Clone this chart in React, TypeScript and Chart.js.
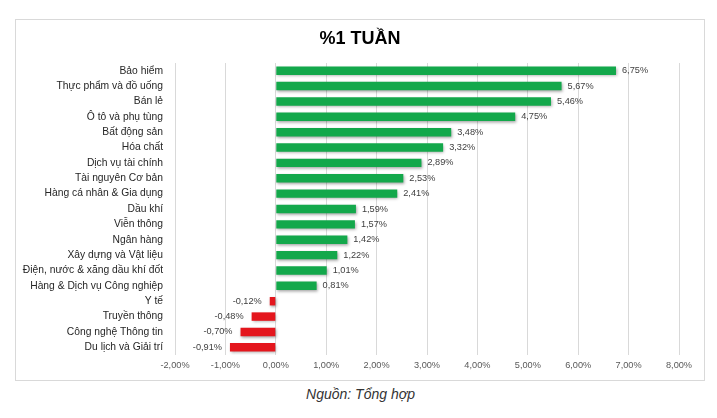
import React, { useEffect, useRef } from "react";
import { Chart, registerables } from "chart.js";

Chart.register(...registerables);

const TITLE = "%1 TUẦN";
const SOURCE = "Nguồn: Tổng hợp";

const categories: string[] = [
  "Bảo hiểm",
  "Thực phẩm và đồ uống",
  "Bán lẻ",
  "Ô tô và phụ tùng",
  "Bất động sản",
  "Hóa chất",
  "Dịch vụ tài chính",
  "Tài nguyên Cơ bản",
  "Hàng cá nhân & Gia dụng",
  "Dầu khí",
  "Viễn thông",
  "Ngân hàng",
  "Xây dựng và Vật liệu",
  "Điện, nước & xăng dầu khí đốt",
  "Hàng & Dịch vụ Công nghiệp",
  "Y tế",
  "Truyền thông",
  "Công nghệ Thông tin",
  "Du lịch và Giải trí",
];

const weekChange: number[] = [
  6.75, 5.67, 5.46, 4.75, 3.48, 3.32, 2.89, 2.53, 2.41, 1.59, 1.57, 1.42, 1.22,
  1.01, 0.81, -0.12, -0.48, -0.7, -0.91,
];

const xMin = -2;
const xMax = 8;
const xStep = 1;

const GREEN = "#13a84b";
const RED = "#e4161d";
const FONT = "'Liberation Sans', Arial, sans-serif";

const fmt = (v: number) => v.toFixed(2).replace(".", ",") + "%";

const shadowPlugin = {
  id: "barShadow",
  beforeDatasetDraw(chart: any) {
    const ctx = chart.ctx;
    ctx.save();
    ctx.shadowColor = "rgba(0,0,0,0.35)";
    ctx.shadowBlur = 3;
    ctx.shadowOffsetX = 1;
    ctx.shadowOffsetY = 1.5;
  },
  afterDatasetDraw(chart: any) {
    chart.ctx.restore();
  },
};

const labelPlugin = {
  id: "valueLabels",
  afterDatasetsDraw(chart: any) {
    const ctx = chart.ctx;
    const meta = chart.getDatasetMeta(0);
    const data = chart.data.datasets[0].data as number[];
    ctx.save();
    ctx.font = `9.2px ${FONT}`;
    ctx.fillStyle = "#404040";
    ctx.textBaseline = "middle";
    meta.data.forEach((bar: any, i: number) => {
      const v = data[i];
      if (v >= 0) {
        ctx.textAlign = "left";
        ctx.fillText(fmt(v), bar.x + 6, bar.y);
      } else {
        ctx.textAlign = "right";
        ctx.fillText(fmt(v), bar.x - 8, bar.y);
      }
    });
    ctx.restore();
  },
};

export default function App() {
  const ref = useRef<HTMLCanvasElement | null>(null);

  useEffect(() => {
    if (!ref.current) return;
    const chart = new Chart(ref.current, {
      type: "bar",
      data: {
        labels: categories,
        datasets: [
          {
            data: weekChange,
            backgroundColor: weekChange.map((v) => (v >= 0 ? GREEN : RED)),
            categoryPercentage: 1,
            barPercentage: 0.55,
          },
        ],
      },
      options: {
        indexAxis: "y",
        responsive: false,
        animation: false,
        layout: { padding: { left: 0, right: 25, top: 43, bottom: 0 } },
        plugins: {
          legend: { display: false },
          tooltip: { enabled: false },
          title: { display: false },
        },
        scales: {
          x: {
            min: xMin,
            max: xMax,
            border: { display: false },
            grid: { color: "#d9d9d9", lineWidth: 1, drawTicks: false },
            ticks: {
              stepSize: xStep,
              padding: 5,
              color: "#595959",
              font: { family: FONT, size: 9.2 },
              callback: (v: any) => fmt(Number(v)),
            },
            afterFit: (s: any) => {
              s.height = 25;
            },
          },
          y: {
            border: { display: false },
            grid: { display: false, drawTicks: false },
            ticks: {
              padding: 12,
              color: "#262626",
              font: { family: FONT, size: 10.3 },
              autoSkip: false,
            },
            afterFit: (s: any) => {
              s.width = 159;
            },
          },
        },
      },
      plugins: [shadowPlugin, labelPlugin],
    });
    return () => chart.destroy();
  }, []);

  return (
    <div
      style={{
        position: "absolute",
        left: 0,
        top: 0,
        width: 717,
        height: 418,
        background: "#fff",
        fontFamily: FONT,
      }}
    >
      <div
        style={{
          position: "absolute",
          left: 15,
          top: 19,
          width: 688,
          height: 360,
          border: "1px solid #d9d9d9",
        }}
      >
        <canvas
          ref={ref}
          width={688}
          height={360}
          style={{ width: 688, height: 360, display: "block" }}
        />
        <div
          style={{
            position: "absolute",
            left: 0,
            top: 7,
            width: 688,
            textAlign: "center",
            fontSize: 18,
            fontWeight: "bold",
            lineHeight: "22px",
            color: "#000",
          }}
        >
          {TITLE}
        </div>
      </div>
      <div
        style={{
          position: "absolute",
          left: 0,
          width: 717,
          top: 386,
          textAlign: "center",
          fontSize: 14,
          fontStyle: "italic",
          color: "#333",
          paddingLeft: 2,
        }}
      >
        {SOURCE}
      </div>
    </div>
  );
}
